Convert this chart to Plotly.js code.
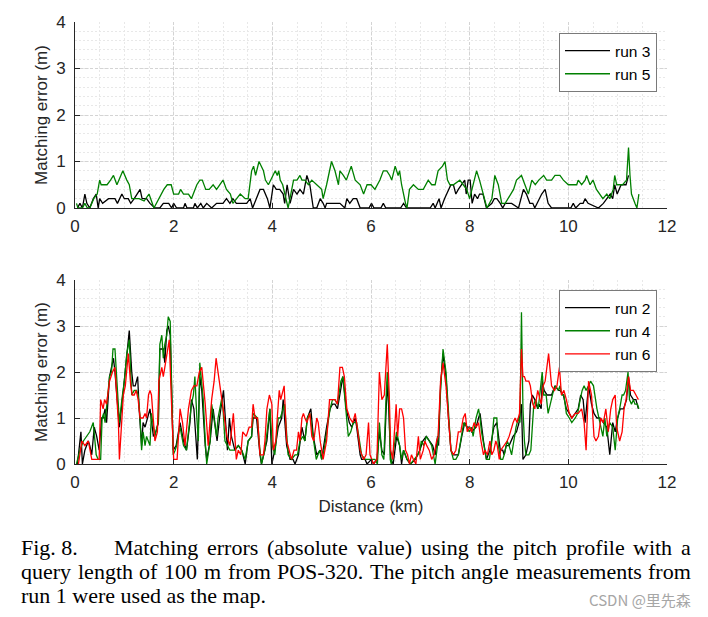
<!DOCTYPE html>
<html><head><meta charset="utf-8">
<script src="https://cdn.plot.ly/plotly-3.0.1.min.js"></script>
<style>html,body{margin:0;padding:0;background:#fff;}#chart{width:708px;height:617px;}</style>
</head><body><div id="chart"></div>
<script>
// ---------- data (distance in km, matching error in m) ----------
const run3X = [0.05,0.1,0.15,0.2,0.24,0.3,0.37,0.43,0.47,0.5,
0.56,0.68,0.81,0.86,0.95,1.0,1.08,1.13,1.2,1.26,
1.32,1.36,1.45,1.52,1.62,1.72,1.79,1.9,1.96,2.0,
2.06,2.2,2.23,2.27,2.4,2.43,2.48,2.55,2.6,2.67,
2.77,2.87,3.0,3.07,3.14,3.2,3.27,3.48,3.55,3.6,
3.68,3.75,3.82,3.9,3.95,4.02,4.08,4.15,4.22,4.25,
4.3,4.36,4.43,4.5,4.56,4.63,4.7,4.76,4.83,4.9,
4.97,5.03,5.07,5.1,5.17,5.37,5.47,5.51,5.57,5.64,
5.71,5.78,5.96,6.01,6.06,6.2,6.25,6.3,6.6,6.66,
6.72,7.2,7.26,7.3,7.38,7.42,7.49,7.57,7.62,7.67,
7.72,7.77,7.84,7.9,7.93,7.97,8.01,8.05,8.1,8.16,
8.2,8.27,8.34,8.45,8.5,8.55,8.62,8.67,8.72,8.85,
8.99,9.09,9.15,9.22,9.28,9.32,9.46,9.53,9.59,9.66,
10.05,10.1,10.15,10.24,10.3,10.34,10.4,10.61,10.71,10.78,
10.85,10.9,10.94,10.99,11.07,11.17,11.22];
const run3Y = [0,0.1,0,0.3,0.1,0,0.2,0.3,0,0.2,
0.1,0.2,0.2,0.1,0.3,0.2,0.2,0.1,0.2,0.3,
0.4,0.2,0.2,0.1,0,0,0.1,0.1,0,0.1,
0,0,0.1,0,0,0.1,0,0.1,0,0.1,
0,0.1,0.1,0.2,0.1,0.2,0.1,0.1,0.2,0,
0.2,0.4,0.4,0.2,0,0.5,0.4,0.4,0.3,0.1,
0.5,0.1,0.4,0.3,0.4,0.3,0.7,0.5,0,0,
0.2,0.1,0,0.1,0.1,0.1,0,0.2,0.1,0.2,
0.2,0,0,0.1,0,0,0.1,0,0,0.1,
0,0,0.1,0,0.2,0,0.2,0.4,0.5,0.5,
0.3,0.4,0.5,0.6,0.3,0.6,0.6,0.1,0.3,0.2,
0.3,0.3,0,0.1,0.2,0.2,0.1,0,0.1,0.1,
0,0.4,0.3,0.1,0.1,0,0.3,0.4,0.1,0,
0,0.1,0,0.1,0.1,0.2,0.1,0,0.1,0.2,
0.3,0.2,0.5,0.3,0.5,0.5,0.7];

const run5X = [0.03,0.06,0.1,0.15,0.2,0.25,0.3,0.38,0.45,0.5,
0.53,0.6,0.65,0.72,0.78,0.85,0.97,1.05,1.1,1.15,
1.2,1.3,1.4,1.5,1.6,1.7,1.8,1.87,1.95,2.0,
2.1,2.14,2.2,2.3,2.36,2.47,2.53,2.58,2.65,2.72,
2.8,2.87,3.0,3.07,3.15,3.2,3.28,3.35,3.45,3.51,
3.58,3.62,3.66,3.73,3.82,3.86,3.92,3.97,4.02,4.06,
4.1,4.13,4.16,4.21,4.32,4.4,4.43,4.5,4.56,4.6,
4.66,4.73,4.8,4.9,5.0,5.03,5.1,5.2,5.27,5.34,
5.37,5.44,5.5,5.6,5.68,5.78,5.85,5.92,6.0,6.08,
6.18,6.25,6.32,6.38,6.42,6.49,6.55,6.58,6.62,6.7,
6.73,6.78,6.86,6.96,7.06,7.16,7.23,7.3,7.36,7.45,
7.5,7.55,7.6,7.67,7.8,7.87,7.94,8.0,8.07,8.14,
8.2,8.28,8.35,8.45,8.51,8.58,8.65,8.72,8.78,8.89,
8.95,9.05,9.12,9.19,9.26,9.33,9.4,9.5,9.56,9.66,
9.73,9.83,9.9,10.0,10.07,10.17,10.2,10.27,10.34,10.37,
10.44,10.5,10.57,10.64,10.7,10.78,10.84,10.91,10.94,10.98,
11.05,11.1,11.18,11.22,11.25,11.28,11.35,11.39,11.43];
const run5Y = [0.1,0,0,0,0.1,0,0,0.2,0.3,0.6,
0.5,0.5,0.5,0.6,0.7,0.5,0.8,0.6,0.5,0.2,
0.2,0.2,0.15,0.3,0,0.2,0.4,0.5,0.5,0.3,
0.3,0.4,0.3,0.3,0.2,0.5,0.6,0.6,0.4,0.4,
0.5,0.4,0.6,0.4,0.3,0.1,0.2,0.3,0.2,0.2,
0.8,0.9,0.7,1.0,0.8,0.6,0.5,0.6,0.7,0.8,
0.7,0.8,0.6,0.5,0,0.5,0.6,0.6,0.7,0.6,
0.6,0.5,0.6,0.5,0.4,0.2,0.5,1.0,0.8,0.5,
0.8,0.7,0.6,0.9,0.6,0.5,0.3,0.5,0.5,0.4,
0.6,0.8,0.8,0.7,0.6,0.9,0.7,0.8,0.5,0.1,
0,0.4,0.5,0.4,0.4,0.6,0.5,0.5,0.8,0.9,
1.0,0.6,0.5,0.5,0.6,0.5,0.4,0.2,0.5,0.8,
0.6,0.3,0,0.2,0.7,0.5,0.1,0.1,0.2,0.4,
0.6,0.7,0.5,0.3,0.6,0.5,0.6,0.7,0.6,0.6,
0.7,0.7,0.6,0.5,0.5,0.5,0.6,0.5,0.6,0.7,
0.5,0.6,0.4,0.3,0.2,0.3,0.2,0.4,0.7,0.5,
0.5,0.5,0.6,1.3,0.7,0.3,0.1,0.0,0.3];

const run2X = [0.05,0.12,0.15,0.2,0.27,0.3,0.34,0.39,0.44,0.49,
0.54,0.57,0.61,0.64,0.7,0.74,0.78,0.81,0.9,0.98,
1.05,1.1,1.15,1.18,1.22,1.25,1.27,1.3,1.35,1.38,
1.42,1.47,1.52,1.59,1.64,1.69,1.72,1.79,1.82,1.86,
1.89,1.93,1.96,1.99,2.05,2.09,2.13,2.2,2.26,2.33,
2.36,2.41,2.44,2.48,2.53,2.57,2.64,2.67,2.74,2.8,
2.88,2.93,3.01,3.04,3.09,3.13,3.17,3.24,3.31,3.38,
3.45,3.51,3.58,3.61,3.68,3.75,3.78,3.89,3.95,3.99,
4.05,4.12,4.19,4.22,4.29,4.36,4.42,4.46,4.53,4.6,
4.66,4.71,4.78,4.83,4.9,4.97,5.0,5.1,5.17,5.22,
5.27,5.32,5.39,5.43,5.5,5.56,5.61,5.68,5.71,5.78,
5.81,5.88,5.92,6.01,6.05,6.12,6.17,6.22,6.27,6.3,
6.33,6.36,6.4,6.45,6.52,6.58,6.62,6.66,6.73,6.8,
6.9,6.99,7.05,7.12,7.18,7.25,7.3,7.35,7.37,7.41,
7.46,7.52,7.57,7.62,7.67,7.72,7.77,7.84,7.9,7.95,
8.0,8.04,8.13,8.18,8.21,8.28,8.34,8.41,8.49,8.55,
8.62,8.67,8.7,8.74,8.8,8.88,8.95,9.0,9.05,9.08,
9.14,9.2,9.23,9.27,9.32,9.38,9.41,9.45,9.47,9.51,
9.57,9.66,9.73,9.8,9.83,9.9,9.96,10.02,10.07,10.14,
10.2,10.25,10.3,10.34,10.37,10.41,10.47,10.52,10.58,10.64,
10.71,10.78,10.84,10.9,10.95,11.0,11.05,11.12,11.18,11.22,
11.26,11.32,11.37,11.42];
const run2Y = [0,0.7,0,0.3,0.5,0.4,0.2,0.8,0.6,0.3,
1.0,1.0,1.2,0.9,1.9,2.1,2.3,2.0,0.8,1.6,
2.3,2.9,2.0,1.7,1.7,1.8,1.9,1.2,0.4,0.9,
0.8,1.0,1.2,0.6,0.7,0.9,2.5,2.5,2.2,2.9,
3.0,2.8,1.5,0.3,0.4,0.7,0.9,0.5,0.3,0.9,
1.4,1.2,0.8,0.1,1.9,1.6,0.4,0.1,0.5,1.2,
0.5,1.0,1.6,1.0,0.3,1.0,0.6,0.3,0.4,0.3,
0.0,0.5,0.6,1.0,1.0,0.2,0.0,0.5,1.2,0.0,
0.3,0.8,1.0,1.4,0.4,0.1,0.1,0.0,0.2,0.8,
0.5,1.0,1.2,0.6,0.2,0.3,0.1,0.8,1.2,1.3,
1.3,1.2,1.7,1.9,1.2,0.9,0.8,1.0,0.8,0.2,
0.1,0.1,0.0,0.1,0.0,0.1,0.7,0.3,0.2,1.0,
1.8,1.2,0.1,0.0,0.6,0.4,0.0,0.3,0.1,0.0,
0.1,0.3,0.5,0.6,0.5,0.4,0.2,0.6,0.4,1.7,
2.4,1.9,1.0,0.3,0.2,0.2,0.2,0.6,0.9,0.8,
0.8,0.7,0.8,1.0,1.1,0.5,0.1,0.3,0.8,0.9,
0.3,0.3,0.2,0.4,0.4,0.6,0.7,0.9,1.3,0.1,
0.2,0.5,1.3,1.5,1.4,1.2,1.3,1.2,1.8,1.6,
1.5,1.5,1.7,1.6,1.6,1.5,1.2,1.1,1.0,1.1,
1.2,1.5,1.4,0.9,1.3,1.7,1.3,1.1,1.0,1.0,
0.9,0.8,0.2,0.9,0.7,1.0,1.2,1.2,1.4,1.9,
1.5,1.4,1.4,1.2];

const run4X = [0.03,0.1,0.17,0.24,0.3,0.37,0.43,0.47,0.52,0.55,
0.58,0.61,0.64,0.7,0.74,0.77,0.81,0.84,0.9,0.95,
1.0,1.05,1.1,1.15,1.2,1.25,1.28,1.32,1.35,1.38,
1.42,1.45,1.52,1.55,1.62,1.66,1.69,1.72,1.76,1.79,
1.82,1.86,1.89,1.93,1.96,1.99,2.03,2.06,2.09,2.13,
2.2,2.26,2.33,2.36,2.4,2.43,2.47,2.5,2.53,2.57,
2.6,2.64,2.67,2.74,2.77,2.8,2.87,2.9,2.97,3.0,
3.04,3.09,3.14,3.24,3.31,3.38,3.45,3.51,3.58,3.61,
3.7,3.74,3.78,3.85,3.92,3.95,4.0,4.05,4.12,4.16,
4.19,4.25,4.32,4.39,4.46,4.51,4.56,4.62,4.66,4.71,
4.76,4.83,4.89,4.96,5.0,5.05,5.1,5.17,5.22,5.27,
5.32,5.39,5.43,5.5,5.54,5.59,5.64,5.71,5.76,5.81,
5.88,5.95,6.01,6.08,6.13,6.17,6.22,6.26,6.3,6.33,
6.36,6.39,6.41,6.46,6.52,6.58,6.62,6.66,6.73,6.8,
6.88,6.95,6.99,7.02,7.07,7.12,7.18,7.23,7.3,7.36,
7.41,7.46,7.52,7.57,7.62,7.67,7.72,7.77,7.82,7.88,
7.94,7.99,8.04,8.07,8.13,8.18,8.21,8.24,8.29,8.34,
8.4,8.45,8.49,8.55,8.58,8.63,8.67,8.7,8.76,8.8,
8.85,8.9,8.94,8.99,9.02,9.05,9.08,9.11,9.14,9.2,
9.24,9.27,9.3,9.34,9.39,9.43,9.47,9.5,9.55,9.59,
9.66,9.7,9.74,9.8,9.83,9.87,9.91,9.96,10.02,10.07,
10.14,10.19,10.24,10.28,10.32,10.36,10.41,10.45,10.51,10.58,
10.64,10.7,10.74,10.78,10.84,10.9,10.95,11.0,11.04,11.09,
11.12,11.16,11.21,11.24,11.28,11.32,11.35,11.4,11.43];
const run4Y = [0,0.3,0.5,0.6,0.7,0.9,0.2,0.1,0.1,1.0,
1.1,0.9,1.2,1.9,2.0,2.5,2.5,1.9,0.9,1.4,
1.8,2.4,2.7,1.5,1.6,1.6,1.5,1.0,0.3,0.7,
0.4,0.6,0.4,1.1,0.6,0.8,0.9,2.6,2.8,2.3,
2.6,2.8,3.2,3.1,1.3,0.2,0.3,0.4,0.6,0.8,
0.4,0.3,1.0,1.3,1.5,1.9,1.0,0.5,2.2,1.7,
1.4,0.5,0.0,0.5,1.3,1.1,0.6,1.0,1.4,1.2,
0.5,0.4,0.3,0.3,0.4,0.3,0.1,0.5,0.6,1.1,
1.0,0.4,0.0,0.3,1.0,1.2,0.4,0.2,1.0,1.0,
1.1,1.3,0.2,0.1,0.2,0.2,0.5,0.6,0.5,1.0,
1.1,0.6,0.1,0.3,0.1,0.3,0.7,1.2,1.4,1.4,
1.3,1.8,1.9,1.1,0.6,0.7,0.9,0.9,0.5,0.2,
0.1,0.1,0.1,0.1,0.0,0.9,0.2,0.1,1.3,2.0,
1.5,0.1,0.0,0.3,0.7,0.4,0.1,0.3,0.1,0.0,
0.1,0.2,0.3,0.5,0.4,0.6,0.5,0.4,0.0,0.5,
1.6,2.5,2.0,1.0,0.3,0.1,0.1,0.2,0.5,0.9,
0.8,0.7,0.8,0.6,1.0,1.2,1.0,0.7,0.4,0.1,
0.1,0.5,1.0,1.0,0.4,0.1,0.1,0.2,0.5,0.4,
0.2,0.5,0.8,1.0,0.9,3.3,1.2,0.5,0.2,0.2,
0.3,0.8,1.3,1.4,1.2,1.6,2.0,1.5,1.5,1.1,
1.4,1.6,1.7,1.6,1.7,1.5,1.5,1.1,1.0,0.9,
1.0,1.1,1.4,1.6,1.7,1.6,1.7,1.8,1.7,1.2,
0.9,0.6,1.0,0.6,0.9,0.8,0.3,1.0,1.2,1.5,
1.5,1.6,2.0,1.4,1.3,1.4,1.3,1.3,1.2];

const run6X = [0.07,0.14,0.2,0.27,0.34,0.44,0.49,0.52,0.57,0.6,
0.64,0.7,0.76,0.81,0.88,0.9,0.98,1.02,1.08,1.13,
1.16,1.2,1.24,1.28,1.32,1.38,1.42,1.45,1.49,1.52,
1.55,1.62,1.67,1.7,1.76,1.79,1.86,1.91,1.95,2.0,
2.07,2.13,2.18,2.23,2.3,2.36,2.41,2.47,2.52,2.57,
2.64,2.7,2.77,2.82,2.86,2.9,2.95,3.0,3.02,3.08,
3.14,3.21,3.27,3.31,3.36,3.4,3.47,3.53,3.58,3.61,
3.65,3.7,3.75,3.82,3.85,3.89,3.94,3.99,4.02,4.07,
4.1,4.14,4.17,4.21,4.24,4.29,4.36,4.39,4.44,4.49,
4.53,4.56,4.6,4.63,4.66,4.7,4.76,4.8,4.84,4.9,
4.93,4.97,5.03,5.1,5.16,5.21,5.27,5.32,5.37,5.42,
5.46,5.51,5.57,5.63,5.68,5.72,5.78,5.85,5.9,5.95,
5.98,6.05,6.12,6.17,6.22,6.27,6.33,6.37,6.4,6.44,
6.51,6.54,6.58,6.62,6.66,6.7,6.74,6.78,6.82,6.86,
6.91,6.96,7.0,7.06,7.09,7.13,7.18,7.23,7.28,7.33,
7.36,7.41,7.46,7.52,7.57,7.62,7.67,7.72,7.77,7.82,
7.87,7.91,7.95,8.0,8.04,8.09,8.13,8.18,8.23,8.28,
8.31,8.36,8.41,8.45,8.49,8.53,8.56,8.6,8.63,8.7,
8.76,8.8,8.85,8.88,8.92,8.96,9.01,9.05,9.08,9.11,
9.14,9.2,9.23,9.28,9.32,9.38,9.45,9.49,9.53,9.6,
9.66,9.72,9.77,9.82,9.86,9.91,9.96,10.02,10.07,10.14,
10.2,10.27,10.32,10.36,10.41,10.47,10.52,10.56,10.61,10.66,
10.71,10.76,10.81,10.86,10.9,10.95,10.98,11.04,11.09,11.13,
11.17,11.22,11.26,11.32,11.37,11.42];
const run6Y = [0,0.5,0.4,0.5,0.1,0.1,0.1,1.4,1.2,1.4,
1.3,1.8,2.0,2.1,0.9,0.1,1.5,1.7,2.4,1.7,
1.5,1.5,1.6,1.4,1.0,1.0,1.1,1.0,1.5,1.6,
1.5,0.5,0.7,1.8,2.1,1.9,2.4,2.7,1.5,0.1,
0.1,1.2,0.9,0.4,1.2,1.6,1.7,1.7,2.0,2.1,
1.3,0.4,1.4,1.8,2.3,2.0,1.6,1.3,1.1,0.6,
0.4,1.1,0.1,0.3,0.2,0.7,0.6,0.8,0.8,1.3,
1.0,1.0,0.2,0.2,0.5,1.2,1.5,1.3,0.3,0.5,
1.0,1.6,1.4,1.6,1.7,0.5,0.2,0.1,0.3,0.3,
0.7,0.5,1.0,1.1,1.0,0.9,1.1,0.6,0.5,1.0,
0.9,0.5,0.1,0.5,1.4,1.4,1.4,1.3,2.1,2.1,
1.9,1.2,1.0,0.9,1.1,0.8,0.3,0.1,0.2,0.9,
0.2,0.0,0.1,2.0,1.4,1.5,2.6,1.5,0.3,0.1,
1.3,0.6,1.2,1.2,1.0,0.3,0.2,0.0,0.2,0.1,
0.0,0.6,0.1,0.3,0.5,0.4,0.3,0.1,0.2,0.5,
0.6,1.8,2.2,1.7,0.9,0.3,0.2,0.3,0.7,0.7,
1.0,1.1,0.7,0.8,0.7,0.9,0.8,0.9,0.5,0.2,
0.3,0.2,0.5,0.2,0.3,0.5,0.4,0.1,0.3,0.4,
0.5,0.6,0.8,0.9,1.0,0.9,1.1,2.5,1.9,1.9,
1.8,1.8,1.7,1.3,1.2,1.6,1.3,1.7,1.8,2.4,
1.7,1.6,1.7,2.1,1.5,1.6,1.4,1.1,1.0,1.1,
1.1,1.2,0.9,0.3,1.8,1.5,0.6,0.5,0.6,1.0,
0.9,1.2,0.7,1.2,1.4,1.5,0.8,0.5,0.7,1.2,
1.4,1.9,1.6,1.6,1.5,1.4];

const xTickVals = [0,2,4,6,8,10,12];
const yTickVals = [0,1,2,3,4];
const topNames = ['run 3','run 5'];
const bottomNames = ['run 2','run 4','run 6'];
const xTitle = 'Distance (km)';
const yTitle = 'Matching error (m)';
const captionLine1Head = 'Fig. 8.';
const captionLine1 = 'Matching errors (absolute value) using the pitch profile with a';
const captionLine2 = 'query length of 100 m from POS-320. The pitch angle measurements from';
const captionLine3 = 'run 1 were used as the map.';
const watermark = 'CSDN @里先森';

// ---------- styling ----------
const SANS = '"Liberation Sans", Arial, Helvetica, sans-serif';
const SERIF = '"Liberation Serif", "Times New Roman", serif';
const TXT = '#262626';
const C_BLACK = '#000000', C_GREEN = '#008000', C_RED = '#ff0000';
const LW = 1.3;

const W = 708, H = 617, ML = 75, MR = 41, MT = 22, MB = 153;
const PW = W - ML - MR, PH = H - MT - MB;
const pyToPaper = py => (H - MB - py) / PH;
const pxToPaper = px => (px - ML) / PW;

function xAxis(anchor, withTitle) {
  const a = {
    anchor: anchor, domain: [0, 1], range: [0, 12], tickvals: xTickVals,
    ticks: 'inside', ticklen: 5, tickwidth: 1, tickcolor: TXT,
    showline: true, linecolor: TXT, linewidth: 1, mirror: false,
    showgrid: true, gridcolor: '#d4d4d4', gridwidth: 1, griddash: '3px,2px',
    minor: {dtick: 0.5, showgrid: true, gridcolor: '#e8e8e8', griddash: '2px,2px', ticks: ''},
    zeroline: false, tickfont: {family: SANS, size: 17, color: TXT},
    ticklabelstandoff: 3, fixedrange: true
  };
  if (withTitle) a.title = {text: xTitle, font: {family: SANS, size: 17, color: TXT}, standoff: 8};
  return a;
}
function yAxis(anchor, domain) {
  return {
    anchor: anchor, domain: domain, range: [0, 4], tickvals: yTickVals,
    ticks: 'inside', ticklen: 5, tickwidth: 1, tickcolor: TXT,
    showline: true, linecolor: TXT, linewidth: 1, mirror: false,
    showgrid: true, gridcolor: '#d4d4d4', gridwidth: 1, griddash: '3px,2px',
    minor: {dtick: 0.2, showgrid: true, gridcolor: '#e8e8e8', griddash: '2px,2px', ticks: ''},
    zeroline: false, tickfont: {family: SANS, size: 17, color: TXT},
    ticklabelstandoff: 5,
    title: {text: yTitle, font: {family: SANS, size: 17, color: TXT}, standoff: 4},
    fixedrange: true
  };
}

const traces = [
  {x: run3X, y: run3Y, name: topNames[0], line: {color: C_BLACK, width: LW}, xaxis: 'x', yaxis: 'y', legend: 'legend'},
  {x: run5X, y: run5Y, name: topNames[1], line: {color: C_GREEN, width: LW}, xaxis: 'x', yaxis: 'y', legend: 'legend'},
  {x: run2X, y: run2Y, name: bottomNames[0], line: {color: C_BLACK, width: LW}, xaxis: 'x2', yaxis: 'y2', legend: 'legend2'},
  {x: run4X, y: run4Y, name: bottomNames[1], line: {color: C_GREEN, width: LW}, xaxis: 'x2', yaxis: 'y2', legend: 'legend2'},
  {x: run6X, y: run6Y, name: bottomNames[2], line: {color: C_RED, width: LW}, xaxis: 'x2', yaxis: 'y2', legend: 'legend2'}
].map(t => Object.assign({type: 'scatter', mode: 'lines', hoverinfo: 'skip'}, t));

// ---------- caption (justified like the printed figure) ----------
const CAP_SIZE = 22;
const ctx = document.createElement('canvas').getContext('2d');
ctx.font = CAP_SIZE + 'px "Liberation Serif"';
function capAnn(text, px, py) {
  return {text: text, xref: 'paper', yref: 'paper', x: pxToPaper(px), y: pyToPaper(py),
    xanchor: 'left', yanchor: 'middle', showarrow: false, borderpad: 0,
    font: {family: SERIF, size: CAP_SIZE, color: '#000'}};
}
function justified(line, x0, x1, py) {
  const words = line.split(' ');
  const ws = words.map(w => ctx.measureText(w).width);
  const total = ws.reduce((a, b) => a + b, 0);
  const gap = (x1 - x0 - total) / (words.length - 1);
  const out = [];
  let x = x0;
  words.forEach((w, i) => { out.push(capAnn(w, x, py)); x += ws[i] + gap; });
  return out;
}
const annotations = [].concat(
  [capAnn(captionLine1Head, 20, 547)],
  justified(captionLine1, 113, 690, 547),
  justified(captionLine2, 20, 690, 571),
  [capAnn(captionLine3, 20, 595)],
  [{text: watermark, xref: 'paper', yref: 'paper', x: pxToPaper(693), y: pyToPaper(599),
    xanchor: 'right', yanchor: 'middle', showarrow: false,
    font: {family: '"Noto Sans CJK SC", "Noto Sans", sans-serif', size: 15, color: '#a6a6a6'}}]
);

const legendBase = {
  xref: 'paper', yref: 'paper', x: pxToPaper(657), xanchor: 'right', yanchor: 'top',
  bgcolor: '#ffffff', bordercolor: '#7a7a7a', borderwidth: 1,
  font: {family: SANS, size: 15.5, color: '#000'}, tracegroupgap: 0, itemwidth: 45
};

const layout = {
  width: W, height: H, margin: {l: ML, r: MR, t: MT, b: MB, pad: 0},
  paper_bgcolor: '#ffffff', plot_bgcolor: '#ffffff',
  showlegend: true,
  legend: Object.assign({}, legendBase, {y: pyToPaper(33)}),
  legend2: Object.assign({}, legendBase, {y: pyToPaper(290)}),
  xaxis: xAxis('y', false),
  yaxis: yAxis('x', [pyToPaper(208), 1]),
  xaxis2: xAxis('y2', true),
  yaxis2: yAxis('x2', [0, pyToPaper(280)]),
  annotations: annotations
};

Plotly.newPlot('chart', traces, layout, {displayModeBar: false, staticPlot: true});
</script>
</body></html>
